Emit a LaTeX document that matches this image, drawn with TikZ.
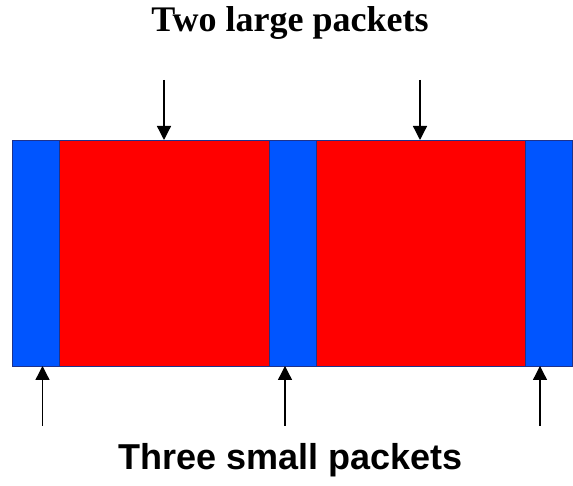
\documentclass[tikz,border=0pt]{standalone}
\usepackage{fontspec}
\newfontfamily\timesfont{Liberation Serif}
\newfontfamily\arialfont{Liberation Sans}
\usetikzlibrary{arrows.meta}
\definecolor{segblue}{RGB}{0,85,255}
\definecolor{segred}{RGB}{255,0,0}
\definecolor{edgeblue}{RGB}{30,50,140}
\tikzset{
  seg/.style={draw=edgeblue, line width=0.9pt, inner sep=0pt, outer sep=0pt, anchor=south west, minimum height=226pt},
  smallseg/.style={seg, fill=segblue, minimum width=47pt},
  largeseg/.style={seg, fill=segred, minimum width=210pt},
  pointer/.style={draw=black, line width=1.3pt, -{Triangle[width=14pt,length=14pt]}}
}
\begin{document}
\begin{tikzpicture}[x=1pt,y=1pt]
\useasboundingbox (0,0) rectangle (573,486);
\node[largeseg] (r1) at (59,120) {};
\node[largeseg] (r2) at (315,120) {};
\node[smallseg] (b1) at (12,120) {};
\node[smallseg] (b2) at (269,120) {};
\node[smallseg] (b3) at (525,120) {};
\node[anchor=base, inner sep=0pt] (top) at (290,454) {\timesfont\bfseries\fontsize{36}{40}\selectfont Two large packets};
\node[anchor=base, inner sep=0pt] (bottom) at (290.5,16) {\arialfont\bfseries\fontsize{36}{40}\selectfont Three small packets};
\coordinate (t1) at (164,406);
\coordinate (t2) at (420,406);
\coordinate (s1) at (42.5,60);
\coordinate (s2) at (285,60);
\coordinate (s3) at (540,60);
\draw[pointer] (t1) -- (t1 |- r1.north);
\draw[pointer] (t2) -- (t2 |- r2.north);
\draw[pointer] (s1) -- (s1 |- b1.south);
\draw[pointer] (s2) -- (s2 |- b2.south);
\draw[pointer] (s3) -- (s3 |- b3.south);
\end{tikzpicture}
\end{document}
